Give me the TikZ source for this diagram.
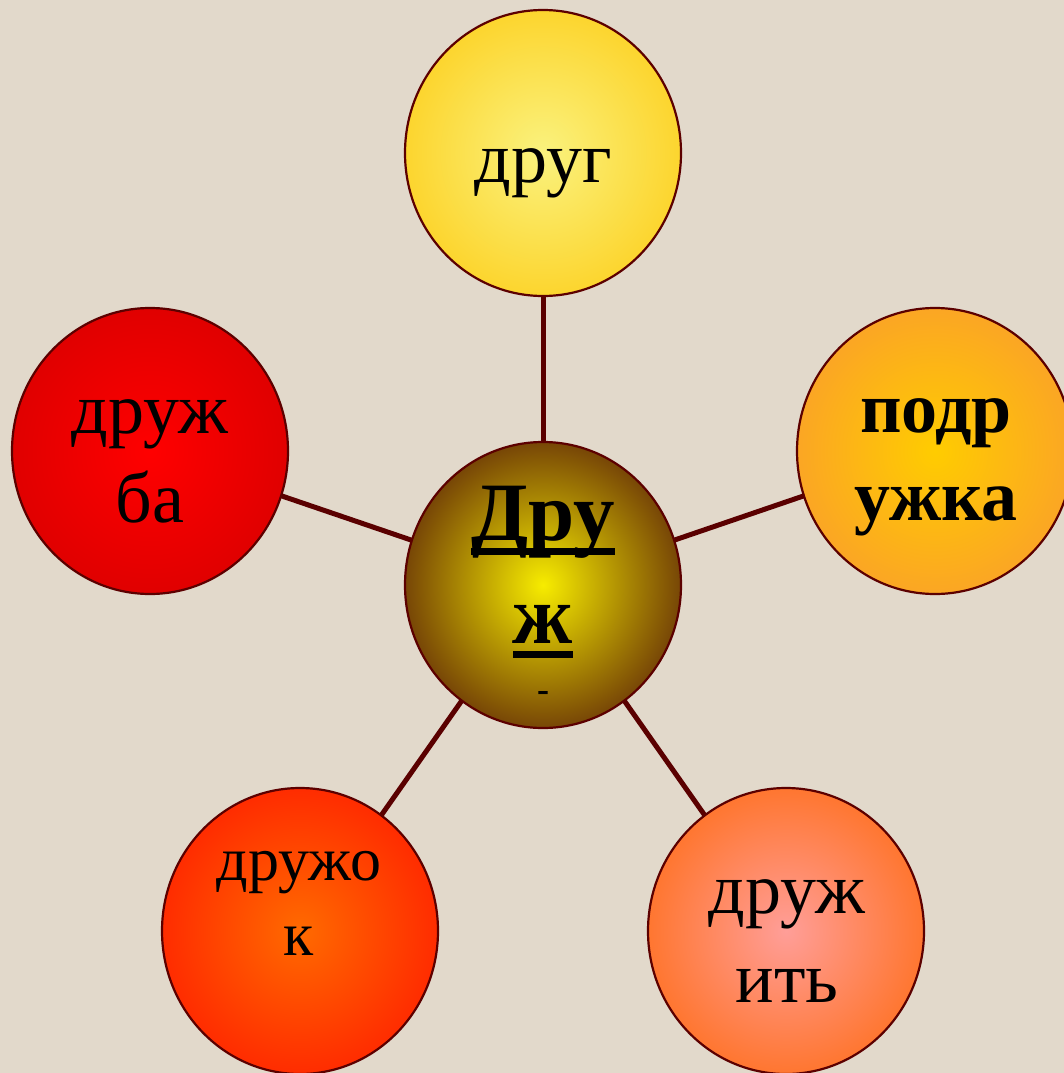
\documentclass[tikz,border=0pt]{standalone}
\usepackage{fontspec}
\setmainfont{Liberation Serif}
\usetikzlibrary{shapes.geometric}
\pgfdeclarelayer{back}
\pgfdeclarelayer{bg}
\pgfsetlayers{back,bg,main}
\definecolor{bgc}{HTML}{E2D9CB}
\definecolor{edgec}{HTML}{5C0000}
\definecolor{conc}{HTML}{5A0000}
\definecolor{tin}{HTML}{FAF27E}
\definecolor{tout}{HTML}{FCD52E}
\definecolor{cin}{HTML}{F7EC00}
\definecolor{cout}{HTML}{774606}
\definecolor{rin}{HTML}{FFCC00}
\definecolor{rout}{HTML}{FBA624}
\definecolor{lin}{HTML}{FF0000}
\definecolor{lout}{HTML}{E00000}
\definecolor{blin}{HTML}{FF6A00}
\definecolor{blout}{HTML}{FF2C00}
\definecolor{brin}{HTML}{FF9E98}
\definecolor{brout}{HTML}{FF7630}
\newcommand\ulbox[1]{\setbox0\hbox{#1}\rlap{\rule[-15pt]{\wd0}{7pt}}\box0}
\begin{document}
\begin{tikzpicture}[x=1pt,y=-1pt,
  bubble/.style={ellipse, draw=edgec, line width=2.2pt, minimum width=276pt, minimum height=286pt, inner sep=0pt},
  conn/.style={draw=conc, line width=5pt},
  lbl/.style={anchor=base, inner sep=0pt, font=\fontsize{72}{86}\selectfont},
  lblb/.style={lbl, font=\fontsize{72}{86}\selectfont\bfseries},
  lbls/.style={lbl, font=\fontsize{62}{75}\selectfont},
  lblc/.style={lbl, font=\fontsize{83}{100}\selectfont\bfseries}]
\useasboundingbox (0,0) rectangle (1064,1073);
\begin{pgfonlayer}{back}
\fill[bgc] (0,0) rectangle (1064,1073);
\end{pgfonlayer}
\node[bubble, inner color=cin, outer color=cout] (c) at (543,585) {};
\node[bubble, inner color=tin, outer color=tout] (t) at (543,153) {};
\node[bubble, inner color=lin, outer color=lout] (l) at (150,451) {};
\node[bubble, inner color=rin, outer color=rout] (r) at (935,451) {};
\node[bubble, inner color=blin, outer color=blout] (bl) at (300,931) {};
\node[bubble, inner color=brin, outer color=brout] (br) at (786,931) {};
\begin{pgfonlayer}{bg}
\draw[conn] (c.center) -- (t.center);
\draw[conn] (c.center) -- (l.center);
\draw[conn] (c.center) -- (r.center);
\draw[conn] (c.center) -- (bl.center);
\draw[conn] (c.center) -- (br.center);
\end{pgfonlayer}
\node[lbl] (t1) at (543,182) {друг};
\node[lbl] (l1) at (150,433) {друж};
\node[lbl] (l2) at (150,522) {ба};
\node[lblb] (r1) at (936,432) {подр};
\node[lblb] (r2) at (936,520) {ужка};
\node[lbls] (bl1) at (299,880) {дружо};
\node[lbls] (bl2) at (299,955) {к};
\node[lbl] (br1) at (787,913) {друж};
\node[lbl] (br2) at (787,1002) {ить};
\node[lblc] (c1) at (543,540) {\ulbox{Дру}};
\node[lblc] (c2) at (543,643) {\ulbox{ж}};
\node[lbl, font=\fontsize{36}{40}\selectfont\bfseries] (c3) at (543,701) {-};
\end{tikzpicture}
\end{document}
